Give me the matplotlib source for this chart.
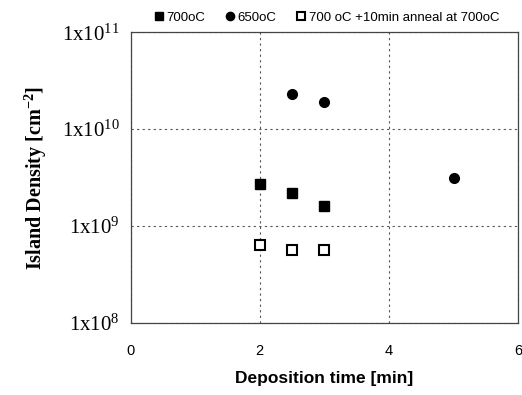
import matplotlib.pyplot as plt
import numpy as np

plt.rcParams['mathtext.fontset'] = 'custom'
plt.rcParams['mathtext.rm'] = 'Liberation Serif'
plt.rcParams['mathtext.bf'] = 'Liberation Serif:bold'
plt.rcParams['axes.unicode_minus'] = False

# Island density vs deposition time
t_700 = [2.0, 2.5, 3.0]
n_700 = [2.7e9, 2.2e9, 1.6e9]

t_650 = [2.5, 3.0, 5.0]
n_650 = [2.3e10, 1.9e10, 3.1e9]

t_anneal = [2.0, 2.5, 3.0]
n_anneal = [6.4e8, 5.7e8, 5.7e8]

labels = ["700oC", "650oC", "700 oC +10min anneal at 700oC"]

fig = plt.figure(figsize=(5.22, 3.95), dpi=100)
ax = fig.add_axes([0.250, 0.183, 0.743, 0.735])

ax.plot(t_700, n_700, 's', color='black', markersize=7, label=labels[0])
ax.plot(t_650, n_650, 'o', color='black', markersize=7, label=labels[1])
ax.plot(t_anneal, n_anneal, 's', markerfacecolor='white', markeredgecolor='black',
        markeredgewidth=1.5, markersize=6.5, label=labels[2])

ax.set_yscale('log')
ax.set_ylim(1e8, 1e11)
ax.set_xlim(0, 6)
ax.set_xticks([0, 2, 4, 6])
ax.set_xticklabels(['0', '2', '4', '6'], family='Liberation Sans', fontsize=10.5)
yt = [1e8, 1e9, 1e10, 1e11]
ax.set_yticks(yt)
ax.set_yticklabels([r'$\mathrm{1x10^{%d}}$' % int(np.log10(v)) for v in yt],
                   family='Liberation Serif', fontsize=15)
ax.minorticks_off()
ax.tick_params(axis='x', length=0, pad=15)
ax.tick_params(axis='y', length=0, pad=8)

ax.grid(True, color='#555555', linestyle=(0, (2, 3)), linewidth=0.8)
for s in ax.spines.values():
    s.set_color('#444444')
    s.set_linewidth(0.9)

ax.set_xlabel('Deposition time [min]', family='Liberation Sans', fontweight='bold',
              fontsize=12.5, labelpad=10)
ax.set_ylabel(r'Island Density [cm$\mathbf{^{-2}}$]', family='Liberation Serif',
              fontweight='bold', fontsize=14.5, labelpad=9)

fig.legend(loc='upper center', bbox_to_anchor=(0.624, 1.0), ncol=3, frameon=False,
           prop={'family': 'Liberation Sans', 'size': 9.5}, handletextpad=0.05,
           columnspacing=1.4, handlelength=1.0, markerscale=0.85)

fig.savefig('out.png', dpi=100)
